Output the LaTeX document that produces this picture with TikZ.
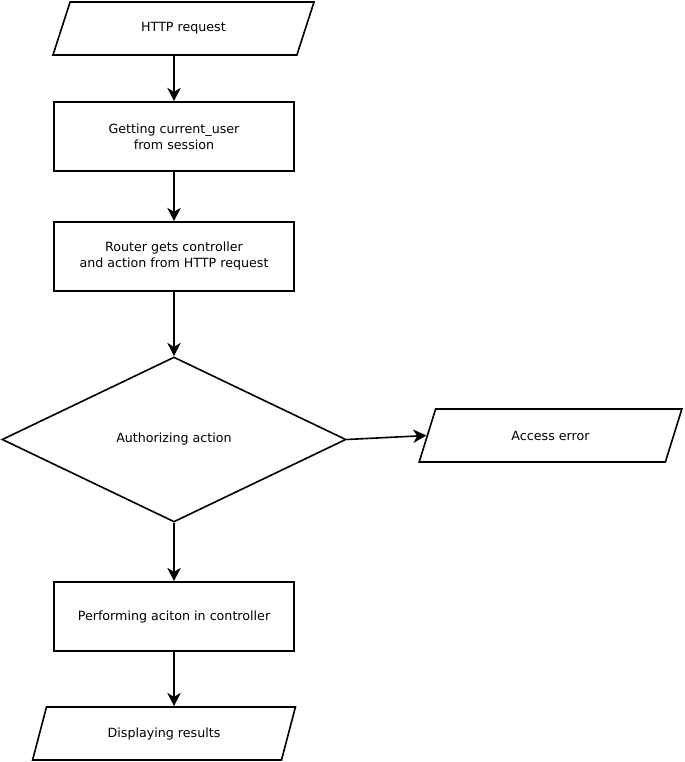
\documentclass[tikz,border=0pt]{standalone}
\usepackage{fontspec}
\setmainfont{DejaVu Sans}
\usetikzlibrary{shapes.geometric,arrows.meta}

\begin{document}
\begin{tikzpicture}[x=0.75pt, y=-0.75pt, line width=1.2pt, font=\fontsize{9.5pt}{12pt}\selectfont,
	process/.style={draw, rectangle, minimum width=180pt, minimum height=51.75pt, align=center},
	io/.style={draw, trapezium, trapezium left angle=71.2, trapezium right angle=108.8, trapezium stretches=true, minimum width=197.25pt, minimum height=39.75pt, align=center},
	decision/.style={draw, diamond, minimum width=258pt, minimum height=123.75pt, inner sep=0pt, align=center},
	flow/.style={-{Stealth[length=10pt, width=10pt, inset=3pt]}}]
	\useasboundingbox (0,0) rectangle (684,762);
	\node [io] (request) at (183.5, 28.5) {HTTP request};
	\node [process] (session) at (174, 136.5) {Getting current\_user\\from session};
	\node [process] (router) at (174, 256.5) {Router gets controller\\and action from HTTP request};
	\node [decision] (auth) at (174, 439.5) {Authorizing action};
	\node [io] (error) at (550.5, 435.5) {Access error};
	\node [process] (perform) at (174, 616.5) {Performing aciton in controller};
	\node [io] (results) at (164, 733.5) {Displaying results};
	\draw [flow] (session.north |- request.south) -- (session.north);
	\draw [flow] (session) -- (router);
	\draw [flow] (router) -- (auth);
	\draw [flow] (auth.east) -- (error.west);
	\draw [flow] (auth) -- (perform);
	\draw [flow] (perform.south) -- (perform.south |- results.north);
\end{tikzpicture}
\end{document}
